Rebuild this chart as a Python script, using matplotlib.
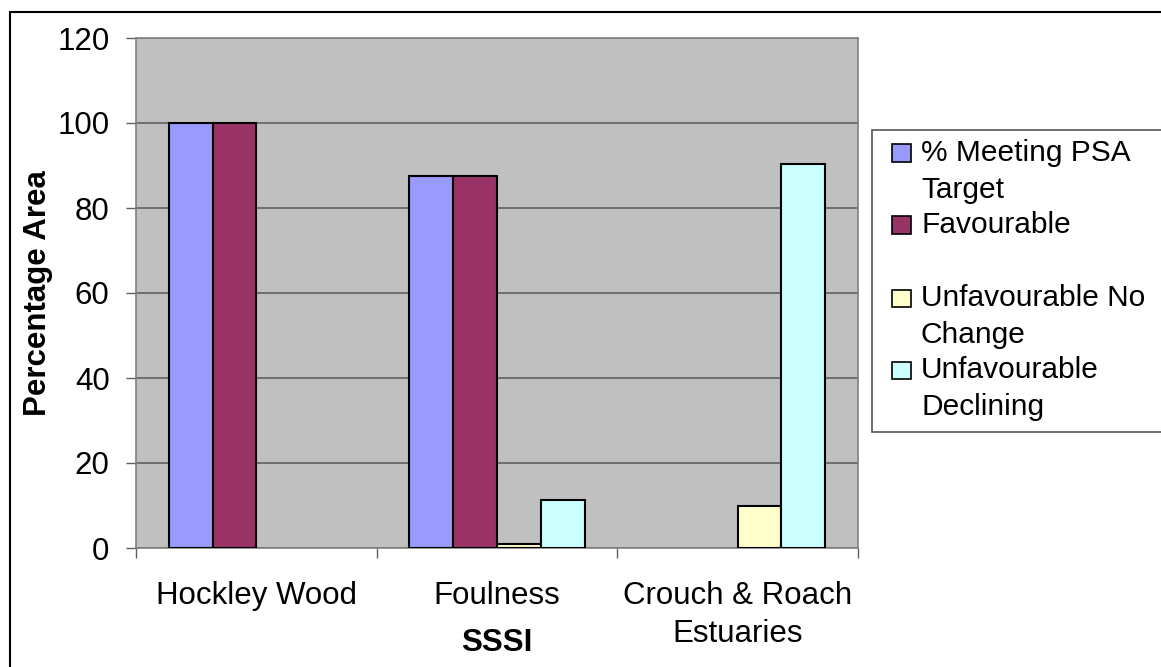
import matplotlib.pyplot as plt
import matplotlib.patches as mpatches
import numpy as np

plt.rcParams['font.family'] = ['Liberation Sans', 'DejaVu Sans']

sites = ["Hockley Wood", "Foulness", "Crouch & Roach\nEstuaries"]
series = ["% Meeting PSA\nTarget", "Favourable", "Unfavourable No\nChange",
          "Unfavourable\nDeclining"]
meeting_psa = [100, 87.5, 0]
favourable = [100, 87.5, 0]
unfav_no_change = [0, 0.9, 9.9]
unfav_declining = [0, 11.4, 90.4]
colours = ["#9999FF", "#993366", "#FFFFCC", "#CCFFFF"]

FS = 22.5

W, H = 1161, 667
fig = plt.figure(figsize=(W / 100, H / 100), dpi=100)
fig.patch.set_facecolor("white")

# plot area in pixel terms
left, right, top, bottom = 136, 858, 38, 548
ax = fig.add_axes([left / W, (H - bottom) / H, (right - left) / W, (bottom - top) / H])
ax.set_facecolor("#C0C0C0")

x = np.arange(len(sites))
bw = 1 / 5.5
values = [meeting_psa, favourable, unfav_no_change, unfav_declining]
for i, (vals, col) in enumerate(zip(values, colours)):
    # zero values get no outline so no stray line sits on the axis
    lws = [1.5 if v > 0 else 0 for v in vals]
    ax.bar(x + (i - 1.5) * bw, vals, bw, color=col, edgecolor="black",
           linewidth=lws, zorder=3)

ax.set_xlim(-0.5, 2.5)
ax.set_ylim(0, 120)
ax.set_yticks(range(0, 121, 20))
ax.yaxis.grid(True, color="#606060", linewidth=1.2, zorder=1)
ax.tick_params(axis="y", direction="out", length=7, width=1, color="#606060",
               labelsize=FS, pad=12)

ax.set_xticks([-0.5, 0.5, 1.5, 2.5])
ax.set_xticklabels([])
ax.set_xticks(x, minor=True)
ax.set_xticklabels(sites, minor=True, fontsize=FS, linespacing=1.34)
ax.tick_params(axis="x", which="major", direction="out", length=7, width=1,
               color="#606060")
ax.tick_params(axis="x", which="minor", length=0, pad=24)

for s in ax.spines.values():
    s.set_color("#808080")
    s.set_linewidth(1.2)

ax.set_ylabel("Percentage Area", fontsize=FS, fontweight="bold")
ax.yaxis.set_label_coords((53 - left) / (right - left), 0.5)
ax.set_xlabel("SSSI", fontsize=FS, fontweight="bold")
ax.xaxis.set_label_coords(0.5, (bottom - 628) / (bottom - top))

# legend drawn by hand, rows every ~36.5 px, with a blank line after "Favourable"
def fx(px):
    return px / W

def fy(py):
    return (H - py) / H

fig.add_artist(mpatches.Rectangle((fx(872), fy(432)), fx(1170) - fx(872), fy(130) - fy(432),
                                  transform=fig.transFigure, facecolor="white",
                                  edgecolor="#555555", linewidth=1.2))
row_y = [153, 225, 298, 370]
line_h = 37
for name, col, ry in zip(series, colours, row_y):
    fig.add_artist(mpatches.Rectangle((fx(892), fy(ry + 8.5)), fx(19), 17 / H,
                                      transform=fig.transFigure, facecolor=col,
                                      edgecolor="black", linewidth=1.2))
    for k, line in enumerate(name.split("\n")):
        fig.text(fx(921), fy(ry + k * line_h), line, fontsize=21.5, va="center", ha="left")

# outer chart border
fig.add_artist(mpatches.Rectangle((fx(10), fy(672)), fx(1170) - fx(10), fy(12) - fy(672),
                                  transform=fig.transFigure, facecolor="none",
                                  edgecolor="black", linewidth=1.5))

fig.savefig("out.png", dpi=100)
